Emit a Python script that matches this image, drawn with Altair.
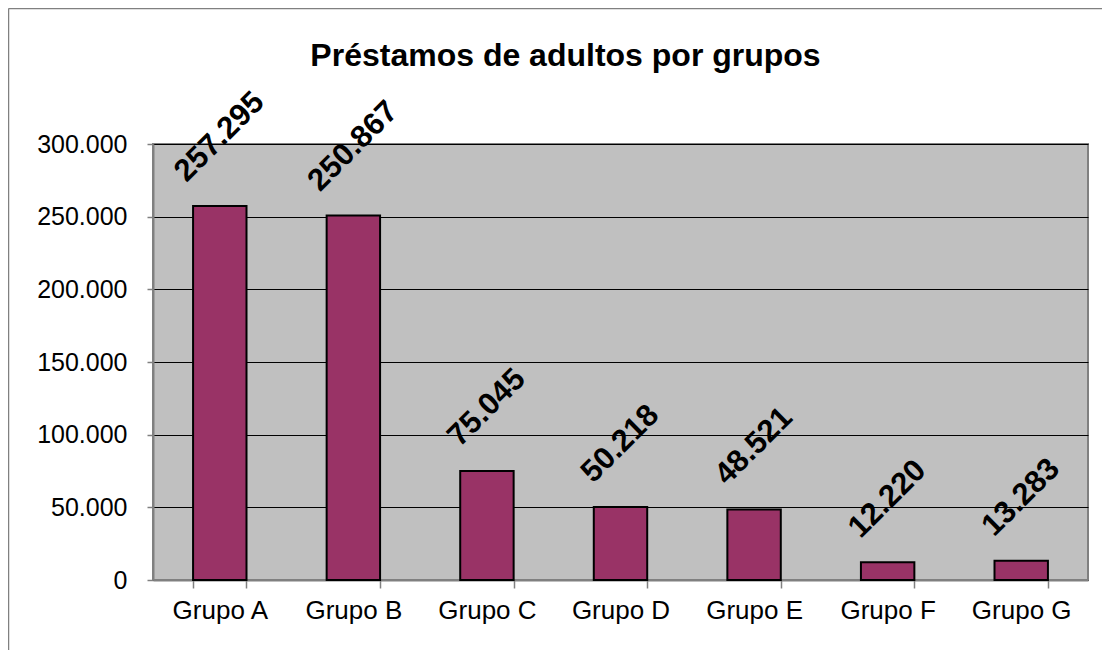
import altair as alt
import pandas as pd

categories = ["Grupo A", "Grupo B", "Grupo C", "Grupo D", "Grupo E", "Grupo F", "Grupo G"]
values = [257295, 250867, 75045, 50218, 48521, 12220, 13283]
y_ticks = [0, 50000, 100000, 150000, 200000, 250000, 300000]

df = pd.DataFrame({"grupo": categories, "valor": values})

FONT = "Liberation Sans"
fmt = "replace(format(datum.valor, ','), ',', '.')"

base = alt.Chart(df).transform_calculate(label=fmt)

x_enc = alt.X(
    "grupo:N",
    sort=categories,
    title=None,
    scale=alt.Scale(paddingInner=0.6, paddingOuter=0.3),
    axis=alt.Axis(
        labelAngle=0,
        labelFont=FONT,
        labelFontSize=26,
        labelColor="black",
        labelPadding=9,
        tickBand="extent",
        tickSize=8,
        tickColor="#808080",
        tickWidth=1.5,
        domainColor="#808080",
        domainWidth=2,
        grid=False,
    ),
)
y_enc = alt.Y(
    "valor:Q",
    title=None,
    scale=alt.Scale(domain=[0, 300000], nice=False),
    axis=alt.Axis(
        values=y_ticks,
        labelExpr="replace(format(datum.value, ','), ',', '.')",
        labelFont=FONT,
        labelFontSize=25,
        labelColor="black",
        labelPadding=20,
        tickSize=6,
        tickColor="#808080",
        tickWidth=1.5,
        domainColor="#808080",
        domainWidth=2,
        grid=True,
        gridColor="black",
        gridWidth=1,
    ),
)

bars = base.mark_bar(color="#993366", stroke="black", strokeWidth=2).encode(x=x_enc, y=y_enc)

label_style = dict(
    angle=315, fontSize=31, fontWeight="bold", font=FONT, color="black",
    align="center", baseline="middle", theta=0,
)
labels_long = base.transform_filter("length(datum.label) > 6").mark_text(radius=69, **label_style).encode(
    x=alt.X("grupo:N", sort=categories), y="valor:Q", text="label:N"
)
labels_short = base.transform_filter("length(datum.label) <= 6").mark_text(radius=63, **label_style).encode(
    x=alt.X("grupo:N", sort=categories), y="valor:Q", text="label:N"
)

frame_data = alt.Data(values=[{}])
frame_left = alt.Chart(frame_data).mark_rule(color="#808080", strokeWidth=1.5).encode(
    x=alt.value(-144.5), y=alt.value(-135.5), y2=alt.value(520)
)
frame_top = alt.Chart(frame_data).mark_rule(color="#808080", strokeWidth=1.5).encode(
    x=alt.value(-144.5), x2=alt.value(960), y=alt.value(-135.5)
)

chart = (
    alt.layer(frame_left, frame_top, bars, labels_long, labels_short)
    .properties(
        width=935,
        height=436,
        title=alt.TitleParams(
            "Préstamos de adultos por grupos",
            font=FONT, fontSize=32, fontWeight="bold", color="black",
            anchor="middle", dx=-55, offset=-90, baseline="alphabetic",
        ),
        autosize=alt.AutoSizeParams(type="none"),
        padding={"left": 145, "top": 136, "right": 14, "bottom": 70},
    )
    .configure_view(fill="#C0C0C0", stroke="#808080", strokeWidth=2)
)

chart.save("out.html", embed_options={"renderer": "svg", "actions": False})
